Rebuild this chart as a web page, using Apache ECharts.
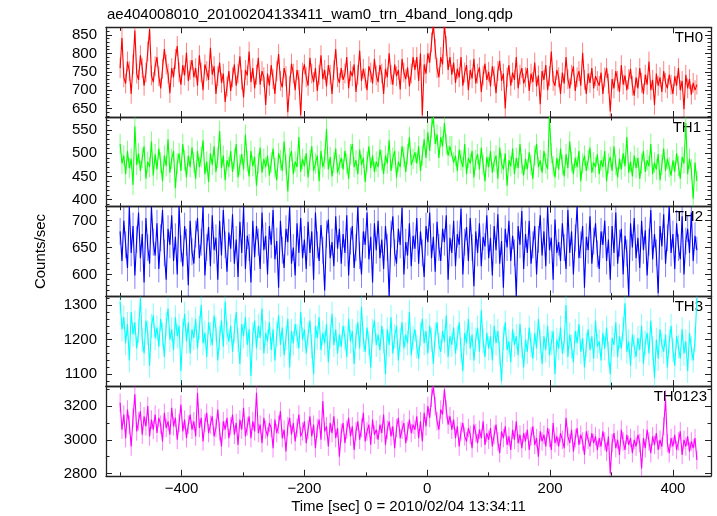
<!DOCTYPE html>
<html><head><meta charset="utf-8">
<script src="https://cdn.jsdelivr.net/npm/echarts@6/dist/echarts.min.js"></script>
<style>html,body{margin:0;padding:0;background:#fff}#c{width:717px;height:516px}</style>
</head><body><div id="c"></div>
<script>
// time bins: start and step (seconds)
const tStart = -500, tStep = 3;

const th0 = [
760,842,735,718,778,752,690,770,862,745,728,795,760,712,748,805,866,740,722,765,
790,738,705,758,812,770,745,692,760,735,785,820,748,715,768,740,802,725,755,782,
735,760,712,795,748,700,770,752,728,815,742,765,690,738,775,720,745,668,710,752,
698,735,770,712,745,792,728,680,755,740,805,722,760,705,742,788,715,752,735,660,
745,712,768,730,690,752,798,725,708,760,738,640,712,772,745,700,755,728,632,748,
770,735,712,788,745,722,760,698,742,795,730,755,710,768,742,690,755,812,735,720,
760,728,745,790,705,752,738,770,695,742,808,725,758,732,700,765,748,718,785,740,
722,768,745,690,758,735,800,742,715,770,738,755,702,785,748,730,762,710,745,790,
755,790,725,800,632,770,745,800,775,830,880,812,760,735,790,770,880,820,755,790,
742,775,720,758,735,790,712,748,768,700,755,732,785,718,745,762,695,740,772,728,
750,710,765,738,692,752,780,725,745,650,735,768,712,748,728,790,705,742,760,718,
735,760,698,745,722,775,710,740,662,752,728,768,700,738,805,725,712,755,735,690,
748,718,790,730,705,742,765,698,735,752,712,802,728,690,745,720,760,705,738,725,
712,748,690,735,760,718,642,730,705,752,725,695,768,715,740,700,730,758,712,685,
735,705,760,720,690,742,715,778,700,728,660,745,712,735,695,752,720,705,742,715,
690,738,712,760,700,725,648,742,705,730,688,720,700,715];

const th1 = [
520,478,495,455,505,468,488,432,558,475,500,462,490,515,445,482,470,525,452,498,
465,510,480,440,495,472,530,458,488,505,425,478,500,462,520,485,448,495,470,512,
480,445,505,470,492,528,455,482,438,500,475,515,460,490,548,468,495,442,485,470,
505,460,488,520,448,475,498,465,540,482,450,505,472,492,430,478,512,458,488,470,
495,452,480,510,468,442,500,485,462,525,476,418,490,505,455,482,470,535,460,488,
472,500,448,485,515,462,478,495,440,505,470,488,552,465,492,450,480,510,458,475,
490,465,505,478,445,498,520,470,485,455,508,475,490,438,482,515,468,495,460,482,
470,508,485,455,495,478,528,462,490,505,448,482,470,515,492,460,498,535,475,488,
502,478,515,462,495,530,490,545,505,555,578,520,540,490,535,515,565,520,495,515,
515,480,495,462,508,485,470,520,455,490,478,505,448,485,498,465,512,475,440,492,
470,505,458,482,495,445,512,478,465,500,430,485,472,510,455,490,468,520,478,452,
488,465,502,475,445,495,520,470,485,458,505,478,466,578,500,472,448,490,465,510,
475,450,498,468,525,482,455,490,470,505,440,478,495,462,485,512,458,480,470,498,
455,485,470,505,440,478,492,462,515,475,448,488,465,500,472,535,458,482,450,495,
468,490,445,478,505,460,485,472,520,455,480,465,498,442,475,510,462,488,470,452,
485,460,500,472,445,492,478,565,455,488,465,402,480,440];

const th2 = [
680,625,700,655,612,726,640,690,598,665,715,630,675,585,705,650,620,726,660,635,
695,610,668,720,640,590,685,655,710,625,670,600,726,648,615,690,660,580,700,642,
620,675,705,630,660,726,598,650,688,615,710,645,668,590,700,635,720,655,605,678,
648,712,620,665,595,698,640,726,610,672,650,585,700,632,690,660,610,715,645,672,
600,690,655,720,628,662,575,700,645,612,685,660,726,620,650,598,695,640,705,630,
665,610,698,640,680,590,715,655,625,692,645,570,675,702,630,660,615,708,648,685,
620,675,640,710,598,662,690,612,650,726,635,600,680,655,715,628,670,585,695,645,
700,630,665,610,690,650,560,675,708,640,620,685,655,724,600,660,635,695,615,672,
648,705,620,680,640,595,690,660,715,630,670,605,698,650,625,685,660,710,590,668,
640,700,615,675,655,722,600,660,688,625,705,650,578,680,640,695,615,670,652,710,
630,668,598,690,645,712,620,662,575,685,650,700,625,672,640,560,690,655,718,610,
675,640,700,620,655,690,600,665,710,635,680,615,726,645,668,590,702,640,660,625,
695,650,610,720,640,680,600,668,726,630,655,690,575,670,645,708,620,662,695,638,
610,680,655,700,625,665,590,690,640,715,620,658,685,600,672,640,560,695,650,705,
630,668,612,700,645,682,598,660,720,628,675,640,565,690,652,712,620,668,726,640,
675,610,695,650,628,708,600,662,685,640,715,625,672,645];

const th3 = [
1310,1230,1265,1190,1245,1140,1280,1215,1250,1175,1225,1320,1200,1160,1255,1220,1125,1240,1270,1205,
1235,1180,1260,1215,1150,1245,1290,1200,1230,1170,1265,1210,1240,1110,1225,1275,1195,1250,1160,1230,
1205,1260,1175,1235,1300,1190,1220,1150,1250,1215,1185,1270,1230,1140,1205,1255,1180,1310,1220,1195,
1240,1165,1225,1280,1200,1130,1245,1210,1265,1185,1230,1095,1215,1255,1175,1240,1205,1290,1160,1220,
1195,1250,1170,1230,1140,1215,1270,1185,1235,1155,1205,1260,1120,1225,1190,1245,1210,1175,1280,1200,
1230,1160,1215,1255,1180,1100,1240,1205,1265,1170,1220,1190,1245,1135,1210,1275,1185,1230,1160,1215,
1180,1240,1205,1150,1260,1195,1225,1130,1210,1250,1175,1295,1200,1165,1235,1190,1120,1225,1255,1185,
1215,1170,1240,1195,1100,1230,1185,1265,1160,1210,1240,1140,1200,1250,1175,1215,1190,1280,1155,1205,
1230,1180,1145,1215,1260,1190,1225,1160,1240,1200,1130,1215,1250,1185,1165,1225,1195,1270,1150,1210,
1185,1235,1160,1205,1250,1170,1110,1220,1190,1260,1175,1215,1140,1200,1235,1165,1285,1195,1150,1220,
1175,1210,1140,1240,1190,1225,1160,1080,1205,1250,1170,1195,1135,1230,1185,1210,1155,1245,1180,1120,
1200,1165,1235,1185,1145,1220,1175,1260,1195,1130,1210,1170,1240,1155,1190,1225,1100,1200,1175,1235,
1160,1195,1300,1150,1215,1180,1135,1225,1190,1245,1165,1205,1120,1185,1230,1170,1210,1145,1255,1180,
1195,1140,1220,1175,1235,1160,1100,1205,1185,1250,1150,1210,1175,1230,1305,1165,1195,1125,1215,1180,
1150,1205,1170,1240,1130,1190,1220,1160,1255,1175,1090,1200,1145,1230,1185,1165,1215,1120,1195,1240,
1170,1125,1210,1180,1145,1230,1160,1195,1110,1220,1175,1140,1200,1320];

const th0123 = [
3220,3060,3150,3010,3180,3090,2960,3130,3270,3050,3110,3170,3030,3140,3080,3200,3020,3120,3060,3150,
3040,3130,3090,2990,3160,3070,3110,3030,3190,3080,3130,3000,3100,3210,3050,3120,3010,3090,3150,3060,
3110,3020,3280,3070,3130,2990,3100,3160,3040,3090,3140,3020,3070,3180,3050,2960,3110,3060,3130,3010,
3080,3150,3030,3100,2970,3120,3060,3190,3020,3080,3140,3010,3110,3050,3280,3040,3090,2980,3130,3060,
3020,3100,3070,2950,3120,3040,3090,3170,3010,3060,2930,3080,3130,3030,3100,2990,3070,3150,3020,3050,
3110,2980,3060,3140,3020,3090,2950,3070,3120,3000,3230,3050,3080,2960,3100,3040,3140,3010,3070,2900,
3040,3100,2980,3060,3130,3020,3080,2940,3050,3110,3000,3070,3160,2990,3050,3090,2970,3120,3030,3060,
3000,3090,3040,3150,2970,3060,3110,3020,3080,2950,3070,3130,3010,3060,3100,2980,3050,3120,3040,3090,
3060,3140,3010,3110,2990,3160,3080,3200,3130,3250,3319,3200,3110,3060,3180,3150,3300,3180,3090,3140,
3060,3120,3010,3080,2960,3050,3100,3020,2990,3070,3030,2950,3090,3040,2980,3060,3010,3110,2970,3040,
3000,3070,2960,3030,3090,2990,2920,3050,3010,3080,2970,3020,2940,3060,3000,3110,2980,3030,2950,3040,
2990,3060,2940,3020,3080,2970,3010,2900,3050,2990,3030,2960,3070,3010,2940,3100,2980,3020,2960,3040,
3000,2950,3130,3020,2980,3060,2930,3010,3070,2970,3030,2990,2910,3050,3000,2960,3040,2980,3020,2940,
3010,2960,3050,2990,2930,3020,2800,2980,3040,2950,3000,2910,3060,2990,2940,3030,2970,3010,2920,3000,
2960,3030,2980,2830,3010,2950,3060,2990,2920,3020,2970,3040,2940,3000,2960,3080,3240,2980,2920,3010,
2960,3030,2940,2990,3050,2910,3000,2960,3020,2930,2990,2950,3010,2880];

const panelNames = ['TH0','TH1','TH2','TH3','TH0123'];
const panelData = [th0, th1, th2, th3, th0123];
const errBar = [27, 22, 25, 35, 55];

// axis scales
const xMin = -523, xMax = 462;
const xMajorTicks = [-400, -200, 0, 200, 400];
const xMinorTicks = [-500, -300, -100, 100, 300];
const yMin = [627, 385, 559, 1066, 2786];
const yMax = [871, 578, 726, 1325, 3319];
const yMajorTicks = [[650,700,750,800,850],[400,450,500,550],[600,650,700],[1100,1200,1300],[2800,3000,3200]];
const yMinorStep = [10, 10, 10, 20, 100];

const titleText = 'ae404008010_20100204133411_wam0_trn_4band_long.qdp';
const xTitle = 'Time [sec] 0 = 2010/02/04 13:34:11';
const yTitle = 'Counts/sec';

// styles
const colors = ['#ff0000','#00ff00','#0000ff','#00ffff','#ff00ff'];
const errColors = ['rgba(255,0,0,0.5)','rgba(0,255,0,0.5)','rgba(0,0,255,0.5)','rgba(0,255,255,0.5)','rgba(255,0,255,0.5)'];
const FONT = 'Liberation Sans, Arial, sans-serif';
const gridLeft = 106, gridWidth = 605, gridTop0 = 27.3, panelH = 89.7;
const frame = {color:'#222', width:1.3};
const labelRight = [703, 701, 703, 703, 707];

function minorVals(g){
  const out = [];
  const s = yMinorStep[g];
  for (let v = Math.ceil(yMin[g]/s)*s; v <= yMax[g]; v += s) {
    if (yMajorTicks[g].indexOf(v) < 0) out.push(v);
  }
  return out;
}

const grids = [], xAxes = [], yAxes = [], series = [], graphics = [];
for (let g = 0; g < 5; g++) {
  grids.push({left: gridLeft, width: gridWidth, top: gridTop0 + g*panelH, height: panelH});
  const isBottom = g === 4;
  const xa = (pos, major) => ({
    gridIndex: g, type: 'value', min: xMin, max: xMax, position: pos,
    axisLine: {show: major, onZero: false, lineStyle: frame},
    axisTick: {show: true, inside: true, length: major ? 6 : 3.5, customValues: major ? xMajorTicks : xMinorTicks, lineStyle: {color:'#222', width:1}},
    axisLabel: {show: major && pos === 'bottom' && isBottom, customValues: xMajorTicks, margin: 6,
      color:'#000', fontFamily: FONT, fontSize: 15,
      formatter: v => String(v).replace('-', '\u2212')},
    splitLine: {show: false}
  });
  xAxes.push(xa('bottom', true), xa('bottom', false), xa('top', true), xa('top', false));
  const mv = minorVals(g);
  const ya = (pos, major) => ({
    gridIndex: g, type: 'value', min: yMin[g], max: yMax[g], position: pos,
    axisLine: {show: major, onZero: false, lineStyle: frame},
    axisTick: {show: true, inside: true, length: major ? 6 : 3.5, customValues: major ? yMajorTicks[g] : mv, lineStyle: {color:'#222', width:1}},
    axisLabel: {show: major && pos === 'left', customValues: yMajorTicks[g], margin: 9,
      color:'#000', fontFamily: FONT, fontSize: 15, formatter: v => String(v)},
    splitLine: {show: false}
  });
  yAxes.push(ya('left', true), ya('left', false), ya('right', true), ya('right', false));

  const pts = panelData[g].map((v, i) => [tStart + i*tStep, v]);
  const err = errBar[g], ec = errColors[g];
  series.push({
    type: 'custom', xAxisIndex: g*4, yAxisIndex: g*4, clip: true, silent: true,
    data: pts, encode: {x: 0, y: 1}, animation: false,
    renderItem: (params, api) => {
      const t = api.value(0), v = api.value(1);
      const p1 = api.coord([t, v - err]), p2 = api.coord([t, v + err]);
      return {type: 'line', shape: {x1: p1[0], y1: p1[1], x2: p2[0], y2: p2[1]}, style: {stroke: ec, lineWidth: 1}};
    }
  });
  series.push({
    type: 'line', xAxisIndex: g*4, yAxisIndex: g*4, data: pts, symbol: 'none', showSymbol: false,
    lineStyle: {color: colors[g], width: 1.1}, clip: true, animation: false, silent: true
  });
  graphics.push({type: 'text', x: labelRight[g], y: gridTop0 + g*panelH + 10.5,
    style: {text: panelNames[g], fill: '#000', font: '15px ' + FONT, align: 'right', verticalAlign: 'middle'}});
}
graphics.push({type:'text', x: 107, y: 15, style:{text: titleText, fill:'#000', font:'15px ' + FONT, align:'left', verticalAlign:'middle'}});
graphics.push({type:'text', x: gridLeft + gridWidth/2, y: 507, style:{text: xTitle, fill:'#000', font:'15px ' + FONT, align:'center', verticalAlign:'middle'}});
graphics.push({type:'text', x: 41, y: gridTop0 + 2.5*panelH, rotation: Math.PI/2, style:{text: yTitle, fill:'#000', font:'15px ' + FONT, align:'center', verticalAlign:'middle'}});

const chart = echarts.init(document.getElementById('c'), null, {renderer: 'canvas'});
chart.setOption({
  animation: false, backgroundColor: '#fff',
  grid: grids, xAxis: xAxes, yAxis: yAxes, series: series, graphic: graphics
});
</script></body></html>
